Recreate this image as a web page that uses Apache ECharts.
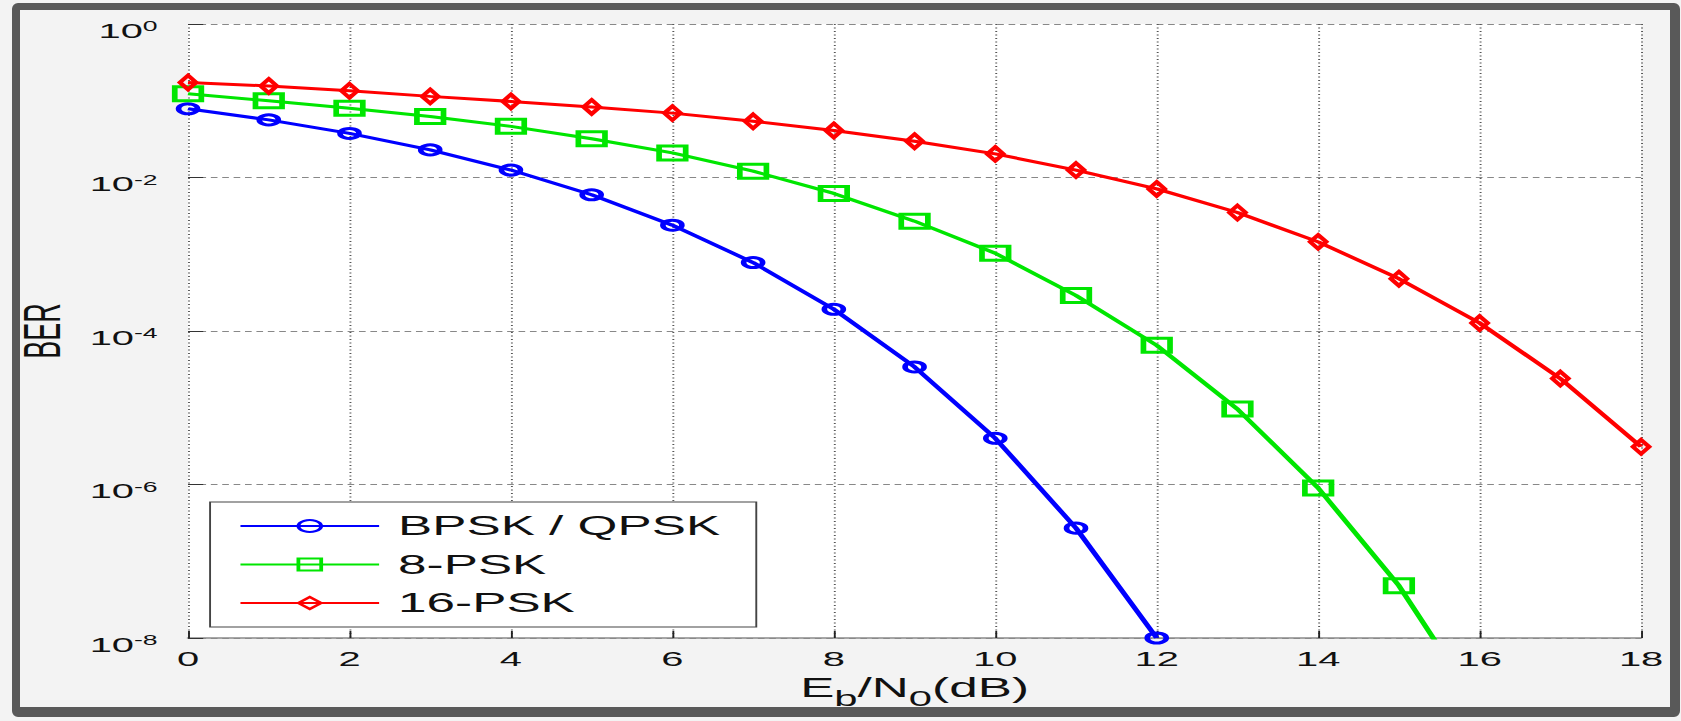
<!DOCTYPE html>
<html>
<head>
<meta charset="utf-8">
<title>BER - PSK</title>
<script src="https://cdn.jsdelivr.net/npm/echarts@6/dist/echarts.min.js"></script>
<style>
  html, body { margin: 0; padding: 0; background: #f3f3f3; overflow: hidden; }
  /* the source figure is stretched sideways, so draw narrow and widen */
  #main { position: absolute; left: 0; top: 0; width: 885px; height: 721px;
          transform: scaleX(1.8994); transform-origin: 0 0; }
  #frame { position: absolute; left: 12px; top: 3px; width: 1650px; height: 697px;
           border-style: solid; border-color: #595959; border-width: 7px 10px 10px 8px;
           border-radius: 6px; pointer-events: none; }
</style>
</head>
<body>
<div id="main"></div>
<div id="frame"></div>
<script>
var ebno = [0, 1, 2, 3, 4, 5, 6, 7, 8, 9, 10, 11, 12, 13, 14, 15, 16, 17, 18]
var berBpsk = [0.0786, 0.0563, 0.0375, 0.0229, 0.0125, 0.00595, 0.00239, 7.8e-4, 1.92e-4, 3.4e-5, 4.0e-6, 2.7e-7, 1.0e-8]
var ber8psk = [0.123, 0.100, 0.080, 0.0625, 0.0464, 0.032, 0.0209, 0.0121, 0.0062, 0.0027, 0.00103, 2.9e-4, 6.5e-5, 9.6e-6, 9.0e-7, 4.8e-8, 1.2e-9]
var ber16psk = [0.173, 0.156, 0.135, 0.114, 0.098, 0.083, 0.069, 0.054, 0.041, 0.0297, 0.0203, 0.0125, 0.0071, 0.0035, 0.00145, 4.8e-4, 1.27e-4, 2.4e-5, 3.1e-6]
var names = ['BPSK / QPSK', '8-PSK', '16-PSK']
var colors = ['#0000ff', '#00e600', '#ff0000']

var font = 'Liberation Sans'

function pairs(ys) {
  return ys.map(function (v, i) { return [ebno[i], v] })
}

function makeSeries(name, ys, color, symbol, size) {
  return {
    name: name,
    type: 'line',
    data: pairs(ys),
    symbol: symbol,
    symbolSize: size,
    showAllSymbol: true,
    clip: true,
    lineStyle: { color: color, width: 3 },
    itemStyle: { color: 'rgba(0,0,0,0)', borderColor: color, borderWidth: 3 }
  }
}

var myChart = echarts.init(document.getElementById('main'), null, { renderer: 'svg' })
myChart.setOption({
  animation: false,
  textStyle: { fontFamily: font },
  grid: {
    left: 99, right: 21, top: 24, bottom: 83,
    outerBoundsMode: 'none',
    containLabel: false,
    show: true, backgroundColor: '#ffffff', borderWidth: 0
  },
  legend: {
    orient: 'vertical',
    left: 110.6,
    top: 502,
    padding: [9, 19, 9, 15],
    itemWidth: 73,
    itemHeight: 15,
    itemGap: 8.5,
    backgroundColor: '#ffffff',
    borderColor: '#444',
    borderWidth: 1,
    borderRadius: 0,
    textStyle: { fontFamily: font, fontSize: 27, lineHeight: 30, color: '#111', padding: [0, 0, 0, 5] },
    data: names
  },
  xAxis: {
    type: 'value',
    min: 0,
    max: 18,
    interval: 2,
    position: 'bottom',
    name: '{m|E}{sub|b}{m|/N}{sub|0}{m|(dB)}',
    nameLocation: 'middle',
    nameGap: 22,
    nameTextStyle: {
      rich: {
        m: { fontFamily: font, fontSize: 27, lineHeight: 27, verticalAlign: 'top', color: '#111' },
        sub: { fontFamily: font, fontSize: 22, lineHeight: 22, padding: [14, 0, 0, 0], verticalAlign: 'top', color: '#111' }
      }
    },
    axisLine: { show: true, onZero: false, lineStyle: { color: '#8a8a8a', width: 1.5 } },
    axisTick: { show: true, inside: true, length: 7, lineStyle: { color: '#222', width: 1 } },
    axisLabel: { margin: 10, fontFamily: font, fontSize: 21, color: '#111' },
    splitLine: { show: true, lineStyle: { color: '#555', width: 1, type: [1, 2.5] } }
  },
  yAxis: {
    type: 'log',
    logBase: 10,
    min: 1e-8,
    max: 1,
    interval: 2,
    name: 'BER',
    nameLocation: 'middle',
    nameGap: 63,
    nameTextStyle: { fontFamily: font, fontSize: 27, color: '#111' },
    axisLine: { show: false },
    axisTick: { show: true, inside: true, length: 8, lineStyle: { color: '#333', width: 1 } },
    minorTick: { show: false },
    axisLabel: {
      margin: 16,
      formatter: function (v) {
        var e = Math.round(Math.log10(v))
        return '{b|10}{s|' + e + '}'
      },
      rich: {
        b: { fontFamily: font, fontSize: 21, lineHeight: 21, padding: [13, 0, 0, 0], color: '#111' },
        s: { fontFamily: font, fontSize: 14, lineHeight: 14, padding: [6, 0, 0, 0], verticalAlign: 'top', color: '#111' }
      }
    },
    splitLine: { show: true, lineStyle: { color: '#888', width: 1, type: [3.5, 2.5] } }
  },
  series: [
    makeSeries(names[0], berBpsk, colors[0], 'circle', 10),
    makeSeries(names[1], ber8psk, colors[1], 'rect', 14),
    makeSeries(names[2], ber16psk, colors[2], 'diamond', [8.5, 14])
  ]
})
</script>
</body>
</html>
